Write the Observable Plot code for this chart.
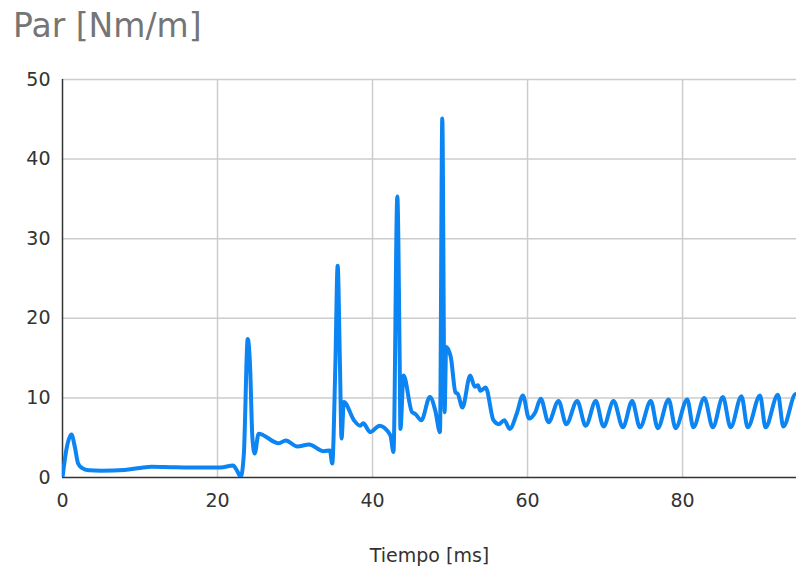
<!DOCTYPE html>
<html>
<head>
<meta charset="utf-8">
<script src="https://cdn.jsdelivr.net/npm/d3@7"></script>
<script src="https://cdn.jsdelivr.net/npm/@observablehq/plot@0.6"></script>
<style>
  html, body { margin: 0; padding: 0; background: #fff; }
  #wrap { position: relative; width: 796px; height: 572px; overflow: hidden; }
  #title { position: absolute; left: 13px; top: 9px; font-family: "DejaVu Sans", sans-serif; font-size: 33px; line-height: 1; color: #757575; }
  #chart { position: absolute; left: 0; top: 60px; }
</style>
</head>
<body>
<div id="wrap">
  <div id="title">Par [Nm/m]</div>
  <div id="chart"></div>
</div>
<script>
const timeMs = [
  0, 0.5, 1.15, 1.6, 2.0, 2.5, 3.4, 5, 8, 10, 11.5, 14, 17.8, 20.4, 22.0, 22.5, 23.0, 23.4, 23.9, 24.2, 24.5, 24.8,
  25.3, 27.9, 28.8, 30.3, 31.8, 33.7, 34.5, 34.8, 35.2, 35.5, 35.8, 36.0, 36.3, 37.6, 38.4, 38.8, 39.7, 40.9,
  42.3, 42.7, 43.2, 43.5, 43.6, 44.0, 45.1, 45.5, 46.3, 47.4, 48.1, 48.7, 49.0, 49.3, 49.5, 50.1, 50.7, 51.0,
  51.6, 52.6, 53.2, 53.6, 53.9, 54.6, 55.6, 56.3, 57.0, 57.7, 58.6, 59.4, 60.2, 61.0, 61.7, 62.7,
  64.0, 65.0, 66.4, 67.5, 68.8, 69.8, 71.1, 72.3, 73.5, 74.5, 75.9, 76.8, 78.2, 79.1, 80.6, 81.4,
  82.8, 83.9, 85.2, 86.2, 87.6, 88.4, 90.0, 90.7, 92.3, 93.0, 94.6, 95.5
];
const torque = [
  0, 3.5, 5.4, 3.8, 1.8, 1.2, 0.9, 0.85, 0.95, 1.2, 1.35, 1.3, 1.25, 1.25, 1.5, 0.9, 0.1, 3, 17.4, 14, 5, 3.0,
  5.5, 4.3, 4.65, 3.9, 4.15, 3.3, 3.4, 1.75, 14, 26.6, 14, 4.9, 9.5, 7.2, 6.5, 6.8, 5.7, 6.5,
  5.3, 3.2, 35.3, 15, 6.1, 12.8, 8.2, 8.0, 7.2, 10.1, 8.4, 5.7, 45.1, 8.2, 16.4, 15.1, 10.7, 10.5,
  8.8, 12.8, 11.4, 11.6, 10.9, 11.3, 7.2, 6.7, 7.2, 6.1, 8.0, 10.3, 7.4, 8.2, 9.9, 6.95,
  9.6, 6.7, 9.6, 6.5, 9.6, 6.4, 9.6, 6.3, 9.6, 6.3, 9.6, 6.2, 9.8, 6.2, 9.8, 6.3,
  10.0, 6.3, 10.1, 6.3, 10.2, 6.3, 10.3, 6.3, 10.4, 6.4, 10.5, 7.5
];
const xTicks = [0, 20, 40, 60, 80];
const yTicks = [0, 10, 20, 30, 40, 50];

const data = timeMs.map((t, i) => ({t, v: torque[i]}));

const chart = Plot.plot({
  width: 796,
  height: 512,
  marginTop: 19,
  marginLeft: 62,
  marginRight: 0,
  marginBottom: 95,
  style: {fontFamily: "'DejaVu Sans', sans-serif", fontSize: "19px", color: "#333", background: "white"},
  x: {type: "linear", domain: [0, 94.7]},
  y: {type: "linear", domain: [0, 50]},
  marks: [
    Plot.gridX(xTicks.filter(d => d > 0), {stroke: "#cccccc", strokeOpacity: 1, strokeWidth: 1.5}),
    Plot.gridY(yTicks.filter(d => d > 0), {stroke: "#cccccc", strokeOpacity: 1, strokeWidth: 1.5}),
    Plot.axisX(xTicks, {tickSize: 0, tickPadding: 16, fontSize: 19, fill: "#333", label: "Tiempo [ms]", labelAnchor: "center", labelArrow: false, labelOffset: 84}),
    Plot.axisY(yTicks, {tickSize: 0, tickPadding: 12, fontSize: 19, fill: "#333", label: null}),
    Plot.ruleX([0], {stroke: "#333", strokeWidth: 1.5}),
    Plot.ruleY([0], {stroke: "#333", strokeWidth: 1.5}),
    Plot.line(data, {x: "t", y: "v", stroke: "#0c85f2", strokeWidth: 4, curve: "monotone-x", clip: true})
  ]
});
document.getElementById("chart").appendChild(chart);
</script>
</body>
</html>
